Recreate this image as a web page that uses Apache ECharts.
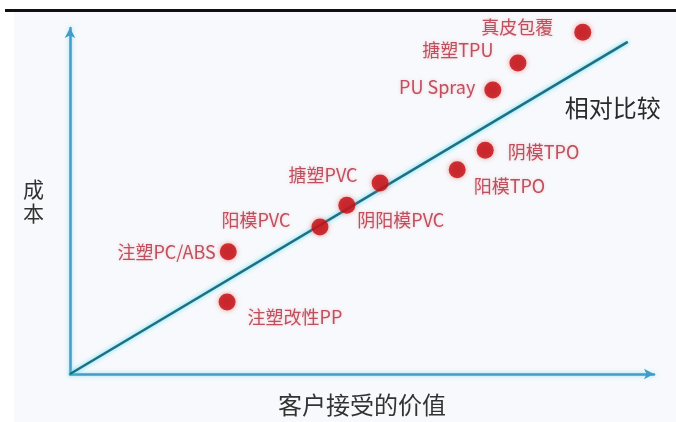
<!DOCTYPE html>
<html>
<head>
<meta charset="utf-8">
<style>
  html, body { margin: 0; padding: 0; background: #ffffff; }
  #chart { width: 676px; height: 422px; }
</style>
<script src="https://cdn.jsdelivr.net/npm/echarts@6/dist/echarts.min.js"></script>
</head>
<body>
<div id="chart"></div>
<script>
// Products positioned by perceived customer value (x) and cost (y), 0–100 scale
const products = ['真皮包覆', '搪塑TPU', 'PU Spray', '阴模TPO', '阳模TPO', '搪塑PVC', '阴阳模PVC', '阳模PVC', '注塑PC/ABS', '注塑改性PP'];
const valueScores = [87.8, 76.7, 72.4, 71.1, 66.3, 53.1, 47.4, 42.8, 27.1, 26.9];
const costScores  = [98.8, 89.9, 82.1, 64.7, 59.0, 55.2, 48.8, 42.5, 35.3, 20.8];

// Reference diagonal: cost rising in step with value
const referenceX = [0, 95.5];
const referenceY = [0, 96.0];
const referenceName = '相对比较';

const xAxisName = '客户接受的价值';
const yAxisName = '成本';

// Label placement for each product: [position, distance, dx, dy]
const labelLayout = [
  ['left', 21, 0, -5],
  ['left', 16, 0, -13],
  ['left', 9, 0, -3],
  ['right', 14, 0, 2],
  ['right', 8, 0, 16],
  ['left', 14, 0, -8],
  ['right', 2, 0, 15],
  ['left', 21, 0, -7],
  ['left', 4, 0, 0],
  ['right', 12, 0, 15]
];

const FONT = '"Noto Sans CJK SC", "Noto Sans", sans-serif';
const axisColor = '#3f9dc8';

const scatterData = products.map((name, i) => {
  const [pos, dist, dx, dy] = labelLayout[i];
  return {
    name: name,
    value: [valueScores[i], costScores[i]],
    label: { position: pos, distance: dist, offset: [dx, dy] }
  };
});

const lineData = referenceX.map((x, i) => [x, referenceY[i]]);

const chart = echarts.init(document.getElementById('chart'), null, { renderer: 'canvas' });

chart.setOption({
  backgroundColor: '#f7f9fc',
  animation: false,
  graphic: [
    { type: 'rect', left: 0, top: 0, shape: { width: 14, height: 422 }, style: { fill: '#ffffff' }, z: -1 },
    { type: 'rect', left: 0, top: 0, shape: { width: 676, height: 9 }, style: { fill: '#ffffff' }, z: -1 },
    { type: 'rect', left: 5, top: 9, shape: { width: 671, height: 3 }, style: { fill: '#111111' } }
  ],
  grid: { left: 70, right: 22, top: 28, bottom: 48, outerBoundsMode: 'none' },
  xAxis: {
    type: 'value', min: 0, max: 100,
    name: xAxisName,
    nameLocation: 'middle',
    nameGap: 19,
    nameMoveOverlap: false,
    nameTextStyle: { fontFamily: FONT, fontSize: 24, color: '#333333' },
    axisLine: {
      show: true,
      symbol: ['none', 'arrow'],
      symbolSize: [8, 10],
      lineStyle: { color: axisColor, width: 2.5, shadowColor: 'rgba(110,210,240,0.7)', shadowBlur: 4 }
    },
    axisTick: { show: false },
    axisLabel: { show: false },
    splitLine: { show: false }
  },
  yAxis: {
    type: 'value', min: 0, max: 100,
    name: yAxisName.split('').join('\n'),
    nameLocation: 'middle',
    nameRotate: 0,
    nameGap: 26,
    nameMoveOverlap: false,
    nameTextStyle: { fontFamily: FONT, fontSize: 21, lineHeight: 24, color: '#333333' },
    axisLine: {
      show: true,
      symbol: ['none', 'arrow'],
      symbolSize: [8, 10],
      lineStyle: { color: axisColor, width: 2.5, shadowColor: 'rgba(110,210,240,0.7)', shadowBlur: 4 }
    },
    axisTick: { show: false },
    axisLabel: { show: false },
    splitLine: { show: false }
  },
  series: [
    {
      type: 'line',
      name: referenceName,
      data: lineData,
      symbol: 'none',
      z: 2,
      lineStyle: { color: '#1f6f84', width: 2.5, shadowColor: 'rgba(60,220,240,0.9)', shadowBlur: 4 },
      endLabel: {
        show: true,
        formatter: '{a}',
        distance: 0,
        offset: [-63, 66],
        fontFamily: FONT,
        fontSize: 24,
        color: '#2a2a2a'
      }
    },
    {
      type: 'scatter',
      data: scatterData,
      symbolSize: 17,
      z: 3,
      itemStyle: {
        color: '#c00a10',
        shadowColor: 'rgba(235,90,90,0.75)',
        shadowBlur: 5
      },
      label: {
        show: true,
        formatter: '{b}',
        fontFamily: FONT,
        fontSize: 18,
        color: '#b02c3c',
        textShadowColor: 'rgba(240,150,160,0.7)',
        textShadowBlur: 3
      }
    }
  ]
});
</script>
</body>
</html>
